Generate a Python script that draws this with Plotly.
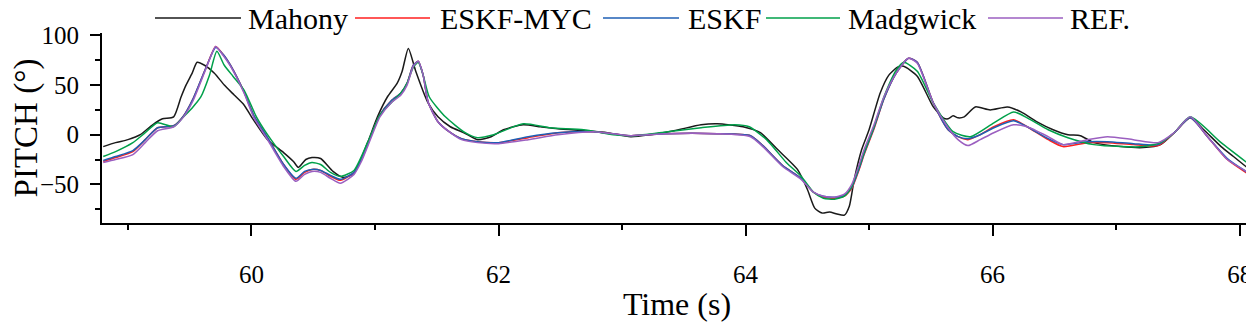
import plotly.graph_objects as go

# ---------------- data ----------------
t_mahony = [58.80, 58.90, 59.00, 59.10, 59.20, 59.28, 59.37, 59.43, 59.47, 59.52, 59.56, 59.62, 59.70, 59.78, 59.86,
            59.94, 60.00, 60.13, 60.26, 60.34, 60.38, 60.44, 60.49, 60.56, 60.66, 60.74, 60.83, 60.94, 61.02, 61.10,
            61.18, 61.22, 61.27, 61.33, 61.43, 61.51, 61.61, 61.72, 61.83, 61.94, 62.04, 62.20, 62.34, 62.48, 62.69,
            62.88, 63.07, 63.23, 63.42, 63.64, 63.77, 63.98, 64.12, 64.26, 64.42, 64.50, 64.56, 64.62, 64.68, 64.74,
            64.80, 64.84, 64.88, 64.94, 65.00, 65.09, 65.16, 65.23, 65.28, 65.39, 65.52, 65.60, 65.64, 65.68, 65.72,
            65.77, 65.86, 65.98, 66.12, 66.23, 66.36, 66.49, 66.61, 66.71, 66.82, 67.04, 67.22, 67.36, 67.47, 67.60,
            67.71, 67.85, 67.95, 68.10]
pitch_mahony = [-12, -8, -5, 0, 10, 16, 18, 38, 50, 62, 73, 70, 62, 50, 40,
                30, 18, -5, -18, -27, -33, -25, -23, -24, -37, -43, -39, -8, 18, 38,
                52, 64, 87, 64, 32, 18, 8, 2, -5, -2, 5, 10, 8, 6, 4,
                2, -2, 0, 4, 10, 11, 8, 2, -15, -35, -55, -74, -79, -78, -80,
                -81, -72, -45, -15, 5, 42, 60, 68, 69, 59, 28, 17, 16, 19, 17,
                18, 28, 25, 28, 23, 13, 5, 0, -1, -8, -12, -13, -10, 2, 17,
                5, -12, -22, -37]

t_est = [58.80, 58.90, 59.04, 59.14, 59.24, 59.37, 59.45, 59.53, 59.64, 59.71, 59.77, 59.83, 59.94, 60.02, 60.13,
         60.26, 60.36, 60.43, 60.49, 60.56, 60.64, 60.72, 60.83, 60.89, 60.94, 61.04, 61.13, 61.21, 61.26, 61.31,
         61.35, 61.39, 61.43, 61.51, 61.60, 61.70, 61.83, 62.00, 62.24, 62.48, 62.77, 63.07, 63.35, 63.77, 64.04,
         64.14, 64.30, 64.45, 64.55, 64.63, 64.72, 64.80, 64.86, 64.92, 64.96, 65.04, 65.12, 65.22, 65.32, 65.39,
         65.52, 65.64, 65.72, 65.80, 65.90, 66.01, 66.17, 66.28, 66.45, 66.57, 66.77, 66.93, 67.14, 67.34, 67.47,
         67.60, 67.74, 67.90, 68.10]
pitch_ref = [-28, -25, -20, -8, 4, 8, 18, 35, 69, 89, 80, 69, 42, 17, -5,
             -32, -47, -40, -37, -38, -44, -49, -40, -27, -12, 18, 32, 40, 50, 69,
             74, 60, 33, 13, 3, -5, -8, -9, -5, 0, 3, -1, 1, 1, -2,
             -12, -32, -45, -58, -62, -63, -60, -50, -30, -15, 10, 38, 62, 77, 72,
             32, 7, -5, -11, -5, 2, 10, 8, -2, -10, -5, -2, -5, -8, 2,
             18, -2, -25, -40]
pitch_eskf_myc = [-27, -23, -17, -5, 7, 9, 19, 37, 70, 89, 81, 70, 43, 19, -3,
                  -30, -45, -38, -35, -36, -42, -46, -38, -25, -10, 20, 34, 42, 52, 70,
                  74, 60, 33, 13, 3, -4, -7, -8, -3, 2, 3, -1, 1, 1, -1,
                  -11, -31, -44, -58, -63, -64, -62, -54, -35, -20, 6, 36, 62, 77, 73,
                  32, 5, -2, -5, 0, 8, 15, 8, -5, -12, -8, -8, -10, -11, 2,
                  17, -2, -25, -42]
pitch_eskf = [-26, -22, -16, -5, 7, 9, 19, 37, 70, 88, 81, 70, 43, 19, -3,
              -30, -44, -37, -35, -36, -41, -45, -38, -25, -10, 20, 34, 42, 52, 70,
              74, 60, 33, 13, 3, -4, -7, -8, -2, 2, 3, -1, 1, 1, -1,
              -11, -31, -44, -58, -62, -63, -61, -53, -34, -19, 7, 36, 62, 77, 73,
              32, 5, -2, -4, 0, 7, 14, 8, -4, -10, -7, -7, -9, -10, 2,
              17, -2, -24, -41]

t_madgwick = [58.80, 58.90, 59.04, 59.14, 59.24, 59.37, 59.45, 59.52, 59.59, 59.66, 59.72, 59.78, 59.85, 59.94, 60.04,
              60.13, 60.26, 60.36, 60.43, 60.49, 60.56, 60.64, 60.72, 60.83, 60.94, 61.04, 61.13, 61.21, 61.26, 61.31,
              61.35, 61.39, 61.44, 61.57, 61.73, 61.83, 61.96, 62.20, 62.42, 62.69, 62.93, 63.10, 63.37, 63.64, 63.91,
              64.03, 64.17, 64.33, 64.45, 64.55, 64.63, 64.72, 64.80, 64.86, 64.92, 64.96, 65.04, 65.12, 65.22, 65.28,
              65.39, 65.52, 65.68, 65.82, 66.01, 66.17, 66.28, 66.45, 66.61, 66.82, 67.04, 67.22, 67.36, 67.47, 67.60,
              67.85, 68.10]
pitch_madgwick = [-22, -17, -8, 2, 12, 8, 18, 27, 38, 60, 84, 70, 59, 45, 18,
                  0, -22, -37, -31, -28, -30, -38, -42, -36, -8, 20, 32, 42, 52, 68,
                  73, 60, 38, 18, 2, -3, 0, 11, 7, 5, 0, -1, 3, 7, 10,
                  8, -5, -28, -42, -58, -64, -65, -62, -52, -32, -18, 8, 38, 65, 73,
                  64, 32, 3, -2, 12, 23, 17, 5, -3, -10, -12, -12, -8, 2, 18,
                  -8, -32]

names = ["Mahony", "ESKF-MYC", "ESKF", "Madgwick", "REF."]
colors = ["#1a1a1a", "#ff1f1f", "#1f5fb4", "#00a04a", "#9b5fc0"]
series_t = [t_mahony, t_est, t_est, t_madgwick, t_est]
series_v = [pitch_mahony, pitch_eskf_myc, pitch_eskf, pitch_madgwick, pitch_ref]

x_ticks = [60, 62, 64, 66, 68]
y_ticks = [-50, 0, 50, 100]

# ---------------- figure ----------------
# page body has an 8px margin, so the figure is 8px smaller; px_* helpers
# take screen pixels of the 1254x326 window
OFF = 8
W, H = 1254 - OFF, 326 - OFF
L, R, T, B = 102 - OFF, 2, 33 - OFF, 103
SERIF = "Times New Roman, Liberation Serif, DejaVu Serif, serif"

fig = go.Figure()
for n, c, tt, vv in zip(names, colors, series_t, series_v):
    fig.add_trace(go.Scatter(x=tt, y=vv, mode="lines", name=n,
                             line=dict(color=c, width=1.5, shape="spline", smoothing=0.6),
                             showlegend=False))

# manual legend (long line samples like the reference)
pw = W - L - R
ph = H - T - B
def px_x(p):
    return (p - OFF - L) / pw
def px_y(p):
    return (H - B - (p - OFF)) / ph

leg_lines = [(155, 241), (355, 430), (603, 679), (766, 840), (988, 1063)]
leg_text_x = [247, 439, 687, 847, 1069]
for (x0, x1), tx, n, c in zip(leg_lines, leg_text_x, names, colors):
    fig.add_shape(type="line", xref="paper", yref="paper",
                  x0=px_x(x0), x1=px_x(x1), y0=px_y(18), y1=px_y(18),
                  line=dict(color=c, width=1.5))
    fig.add_annotation(xref="paper", yref="paper", x=px_x(tx), y=px_y(19),
                       xanchor="left", yanchor="middle", text=n, showarrow=False,
                       font=dict(family=SERIF, size=30, color="black"), borderpad=0)

fig.update_layout(
    width=W, height=H,
    margin=dict(l=L, r=R, t=T, b=B, autoexpand=False),
    paper_bgcolor="white", plot_bgcolor="white",
    showlegend=False,
    font=dict(family=SERIF, color="black"),
)
fig.update_xaxes(
    automargin=False,
    range=[58.79, 68.1], tickvals=x_ticks, ticktext=[str(v) for v in x_ticks],
    showgrid=False, zeroline=False, showline=True, linecolor="black", linewidth=2,
    ticks="outside", ticklen=11, tickwidth=2, tickcolor="black",
    tickfont=dict(family=SERIF, size=25, color="black"), ticklabelstandoff=17,
    minor=dict(dtick=1, tick0=59, ticks="outside", ticklen=5, tickwidth=2, tickcolor="black", showgrid=False),
    title=dict(text="Time (s)", font=dict(family=SERIF, size=32, color="black"), standoff=6),
)
fig.update_yaxes(
    automargin=False,
    range=[-89, 102.5], tickvals=y_ticks, ticktext=["\u221250", "0", "50", "100"],
    showgrid=False, zeroline=False, showline=True, linecolor="black", linewidth=2,
    ticks="outside", ticklen=10, tickwidth=2, tickcolor="black",
    tickfont=dict(family=SERIF, size=25, color="black"), ticklabelstandoff=6,
    minor=dict(dtick=25, tick0=-75, ticks="outside", ticklen=5, tickwidth=2, tickcolor="black", showgrid=False),
    title=dict(text="PITCH (\u00b0)", font=dict(family=SERIF, size=33, color="black"), standoff=18),
)

fig.write_html("out.html")
